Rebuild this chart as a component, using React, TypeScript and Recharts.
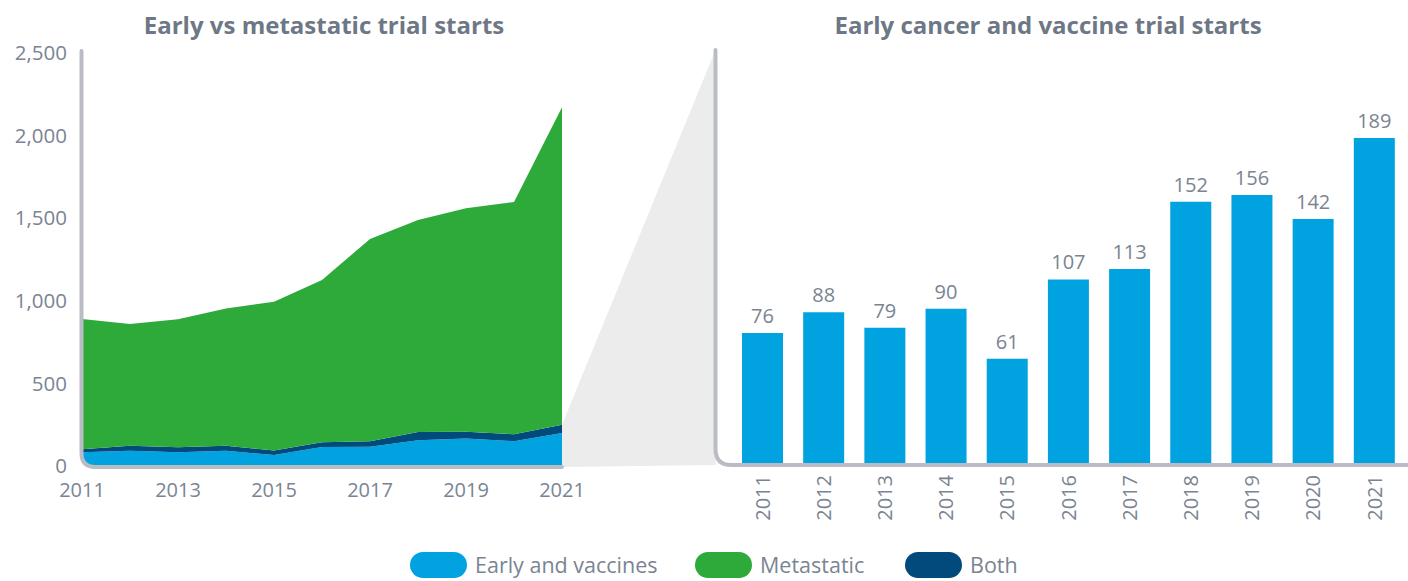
import { AreaChart, Area, BarChart, Bar, XAxis, YAxis, LabelList } from 'recharts';

const years = [2011, 2012, 2013, 2014, 2015, 2016, 2017, 2018, 2019, 2020, 2021];
const earlyVaccines = [83, 92, 83, 92, 67, 115, 117, 156, 167, 150, 200];
const both = [19, 31, 30, 31, 27, 29, 33, 50, 41, 42, 50];
const metastatic = [788, 737, 775, 830, 900, 982, 1224, 1283, 1352, 1406, 1922];

const leftYTicks = [0, 500, 1000, 1500, 2000, 2500];
const leftXTicks = [2011, 2013, 2015, 2017, 2019, 2021];

const barYears = ['2011', '2012', '2013', '2014', '2015', '2016', '2017', '2018', '2019', '2020', '2021'];
const barValues = [76, 88, 79, 90, 61, 107, 113, 152, 156, 142, 189];

const BLUE = '#00a3e0';
const GREEN = '#2eaa3a';
const NAVY = '#004a7c';
const TITLE = '#6d7785';
const TICK = '#7a8492';
const FRAME = '#b9bdc3';
const FONT = '"Open Sans", sans-serif';

// left chart plot area (page coords)
const L_TOP = 53;
const L_BOTTOM = 466;
const L_LEFT = 82;
const L_RIGHT = 562;
const L_MAX = 2500;

// right chart plot area (page coords)
const R_LEFT = 716;
const R_TOP = 50;
const R_BOTTOM = 464;
const R_RIGHT = 1405;

const areaData = years.map((y, i) => ({
    year: y,
    early: earlyVaccines[i],
    both: both[i],
    metastatic: metastatic[i],
}));

const barData = barYears.map((y, i) => ({ year: y, value: barValues[i] }));

const VerticalTick = (props: any) => {
    const { x, y, payload } = props;
    return (
        <g transform={`translate(${x},${y})`}>
            <text transform="rotate(-90)" textAnchor="end" dy="0.355em" fill={TICK} fontSize={20} fontFamily={FONT}>
                {payload.value}
            </text>
        </g>
    );
};

const legendItems = [
    { label: 'Early and vaccines', color: BLUE, left: 410 },
    { label: 'Metastatic', color: GREEN, left: 695 },
    { label: 'Both', color: NAVY, left: 905 },
];

export default function App() {
    // top of the early+both stack in 2021, where the zoom wedge starts
    const last = years.length - 1;
    const stackTop = earlyVaccines[last] + both[last];
    const wedgeY = L_BOTTOM - (stackTop / L_MAX) * (L_BOTTOM - L_TOP);

    const lx = 81.5, ly = 467, lr = 14;
    const rx = 715.5, ry = 465, rr = 16;

    return (
        <div style={{ position: 'absolute', left: 0, top: 0, width: 1408, height: 581, overflow: 'hidden', background: '#fff', fontFamily: FONT }}>
            <div style={{ position: 'absolute', left: 0, top: 11, width: 648, textAlign: 'center', fontSize: 24, fontWeight: 700, color: TITLE, lineHeight: '28px', whiteSpace: 'nowrap' }}>
                Early vs metastatic trial starts
            </div>
            <div style={{ position: 'absolute', left: 686, top: 11, width: 724, textAlign: 'center', fontSize: 24, fontWeight: 700, color: TITLE, lineHeight: '28px', whiteSpace: 'nowrap' }}>
                Early cancer and vaccine trial starts
            </div>

            <div style={{ position: 'absolute', left: 0, top: 0 }}>
                <AreaChart width={600} height={520} data={areaData} margin={{ top: L_TOP, right: 600 - L_RIGHT, left: 20, bottom: 520 - L_BOTTOM - 40 }}>
                    <XAxis
                        dataKey="year"
                        type="number"
                        domain={[2011, 2021]}
                        ticks={leftXTicks}
                        axisLine={false}
                        tickLine={false}
                        tickSize={0}
                        tickMargin={17}
                        height={40}
                        tick={{ fill: TICK, fontSize: 20 }}
                    />
                    <YAxis
                        domain={[0, L_MAX]}
                        ticks={leftYTicks}
                        axisLine={false}
                        tickLine={false}
                        tickSize={0}
                        tickMargin={15}
                        width={L_LEFT - 20}
                        tick={{ fill: TICK, fontSize: 20.5 }}
                        tickFormatter={(v) => v.toLocaleString('en-US')}
                    />
                    <Area type="linear" dataKey="early" stackId="a" stroke="none" fill={BLUE} fillOpacity={1} isAnimationActive={false} />
                    <Area type="linear" dataKey="both" stackId="a" stroke="none" fill={NAVY} fillOpacity={1} isAnimationActive={false} />
                    <Area type="linear" dataKey="metastatic" stackId="a" stroke="none" fill={GREEN} fillOpacity={1} isAnimationActive={false} />
                </AreaChart>
            </div>

            <div style={{ position: 'absolute', left: 640, top: 0 }}>
                <BarChart width={768} height={540} data={barData} margin={{ top: R_TOP, right: 768 - (R_RIGHT - 640), left: R_LEFT - 640, bottom: 540 - R_BOTTOM - 60 }}>
                    <XAxis
                        dataKey="year"
                        axisLine={false}
                        tickLine={false}
                        tickSize={0}
                        tickMargin={11}
                        height={60}
                        padding={{ left: 16, right: 0 }}
                        interval={0}
                        tick={<VerticalTick />}
                    />
                    <YAxis hide domain={[0, 240]} />
                    <Bar dataKey="value" fill={BLUE} barSize={41} isAnimationActive={false}>
                        <LabelList dataKey="value" position="top" offset={10} fill={TICK} fontSize={20} />
                    </Bar>
                </BarChart>
            </div>

            <svg width={1408} height={581} style={{ position: 'absolute', left: 0, top: 0, pointerEvents: 'none' }}>
                <polygon points={`${L_RIGHT},${wedgeY} ${rx},${R_TOP} ${rx},${ry} ${L_RIGHT},${ly}`} fill="#ececec" />
                <path d={`M${lx},${ly - lr} Q${lx},${ly} ${lx + lr},${ly} L${lx},${ly + 3} Z`} fill="#fff" />
                <path
                    d={`M${lx},51 L${lx},${ly - lr} Q${lx},${ly} ${lx + lr},${ly} L${L_RIGHT},${ly}`}
                    fill="none"
                    stroke={FRAME}
                    strokeWidth={4}
                    strokeLinecap="round"
                />
                <path
                    d={`M${rx},${R_TOP} L${rx},${ry - rr} Q${rx},${ry} ${rx + rr},${ry} L1410,${ry}`}
                    fill="none"
                    stroke={FRAME}
                    strokeWidth={4}
                    strokeLinecap="round"
                />
            </svg>

            {legendItems.map((it) => (
                <div key={it.label} style={{ position: 'absolute', left: it.left, top: 552, height: 26 }}>
                    <div style={{ position: 'absolute', left: 0, top: 0, width: 57, height: 26, borderRadius: 13, background: it.color }} />
                    <div style={{ position: 'absolute', left: 65, top: 1, fontSize: 21.5, lineHeight: '24px', color: TICK, whiteSpace: 'nowrap' }}>{it.label}</div>
                </div>
            ))}
        </div>
    );
}
